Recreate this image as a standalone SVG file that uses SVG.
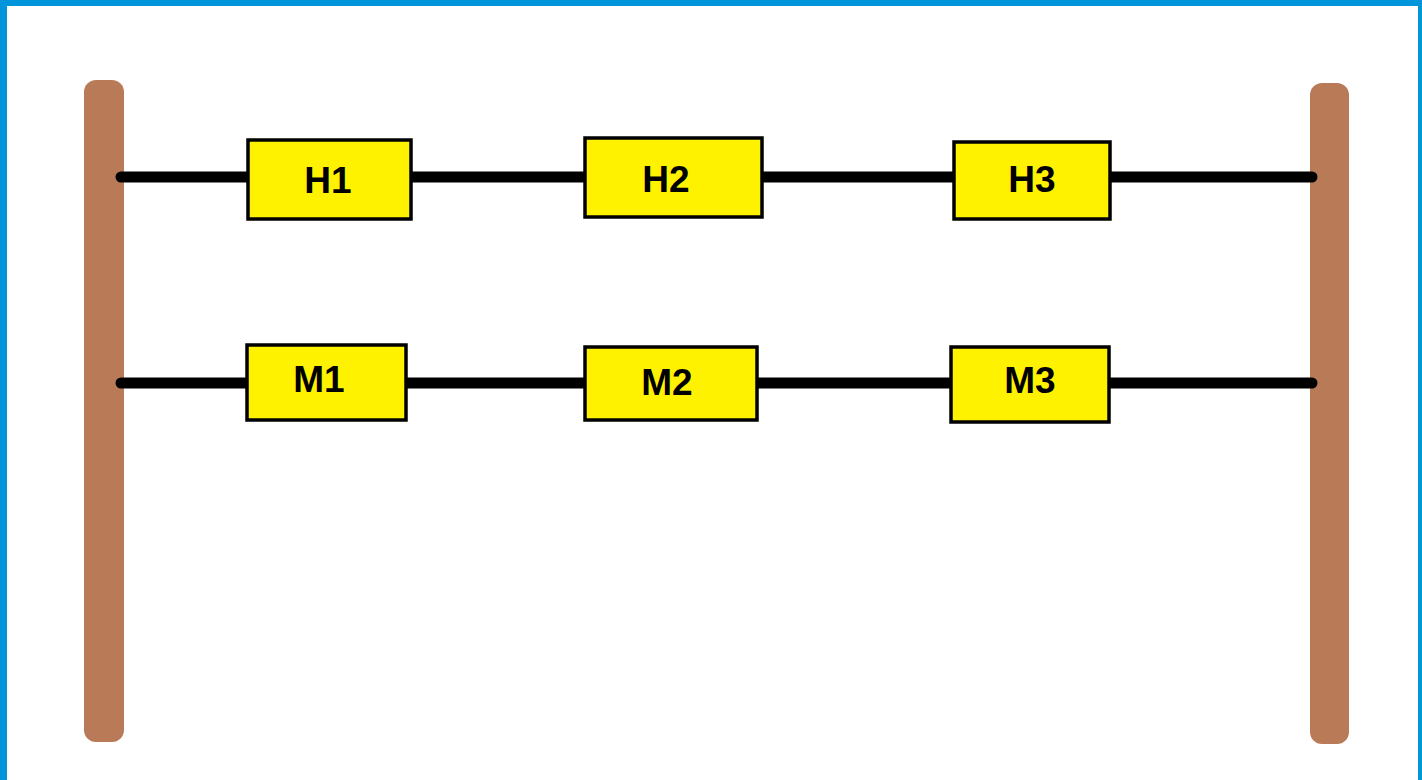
<svg xmlns="http://www.w3.org/2000/svg" width="1422" height="780" viewBox="0 0 1422 780">
<style>
.pole{fill:#B97A57}
.wire{stroke:#000;stroke-width:11;stroke-linecap:round;fill:none}
.box{fill:#FFF200;stroke:#000;stroke-width:3.5}
.lbl{font-family:"Liberation Sans",Arial,sans-serif;font-weight:bold;font-size:37px;fill:#000;text-anchor:middle}
</style>
<rect x="0" y="0" width="1422" height="780" fill="#fff"/>
<rect x="0" y="0" width="7" height="780" fill="#0095DA"/>
<rect x="0" y="0" width="1422" height="6" fill="#0095DA"/>
<rect x="1418" y="0" width="4" height="780" fill="#0095DA"/>
<g id="pole-left"><rect class="pole" x="84" y="80" width="40" height="662" rx="12"/></g>
<g id="pole-right"><rect class="pole" x="1310" y="83" width="39" height="661" rx="12"/></g>
<g id="connectors">
<line class="wire" x1="121" y1="177" x2="1312" y2="177"/>
<line class="wire" x1="121" y1="383" x2="1312" y2="383"/>
</g>
<g id="H1"><rect class="box" x="248" y="140" width="163" height="79"/><text class="lbl" x="328" y="193">H1</text></g>
<g id="H2"><rect class="box" x="585" y="138" width="177" height="79"/><text class="lbl" x="666" y="192">H2</text></g>
<g id="H3"><rect class="box" x="954" y="142" width="156" height="77"/><text class="lbl" x="1032" y="192">H3</text></g>
<g id="M1"><rect class="box" x="247" y="345" width="159" height="75"/><text class="lbl" x="319" y="392">M1</text></g>
<g id="M2"><rect class="box" x="585" y="347" width="172" height="73"/><text class="lbl" x="667" y="395">M2</text></g>
<g id="M3"><rect class="box" x="951" y="347" width="158" height="75"/><text class="lbl" x="1030" y="393">M3</text></g>
</svg>
